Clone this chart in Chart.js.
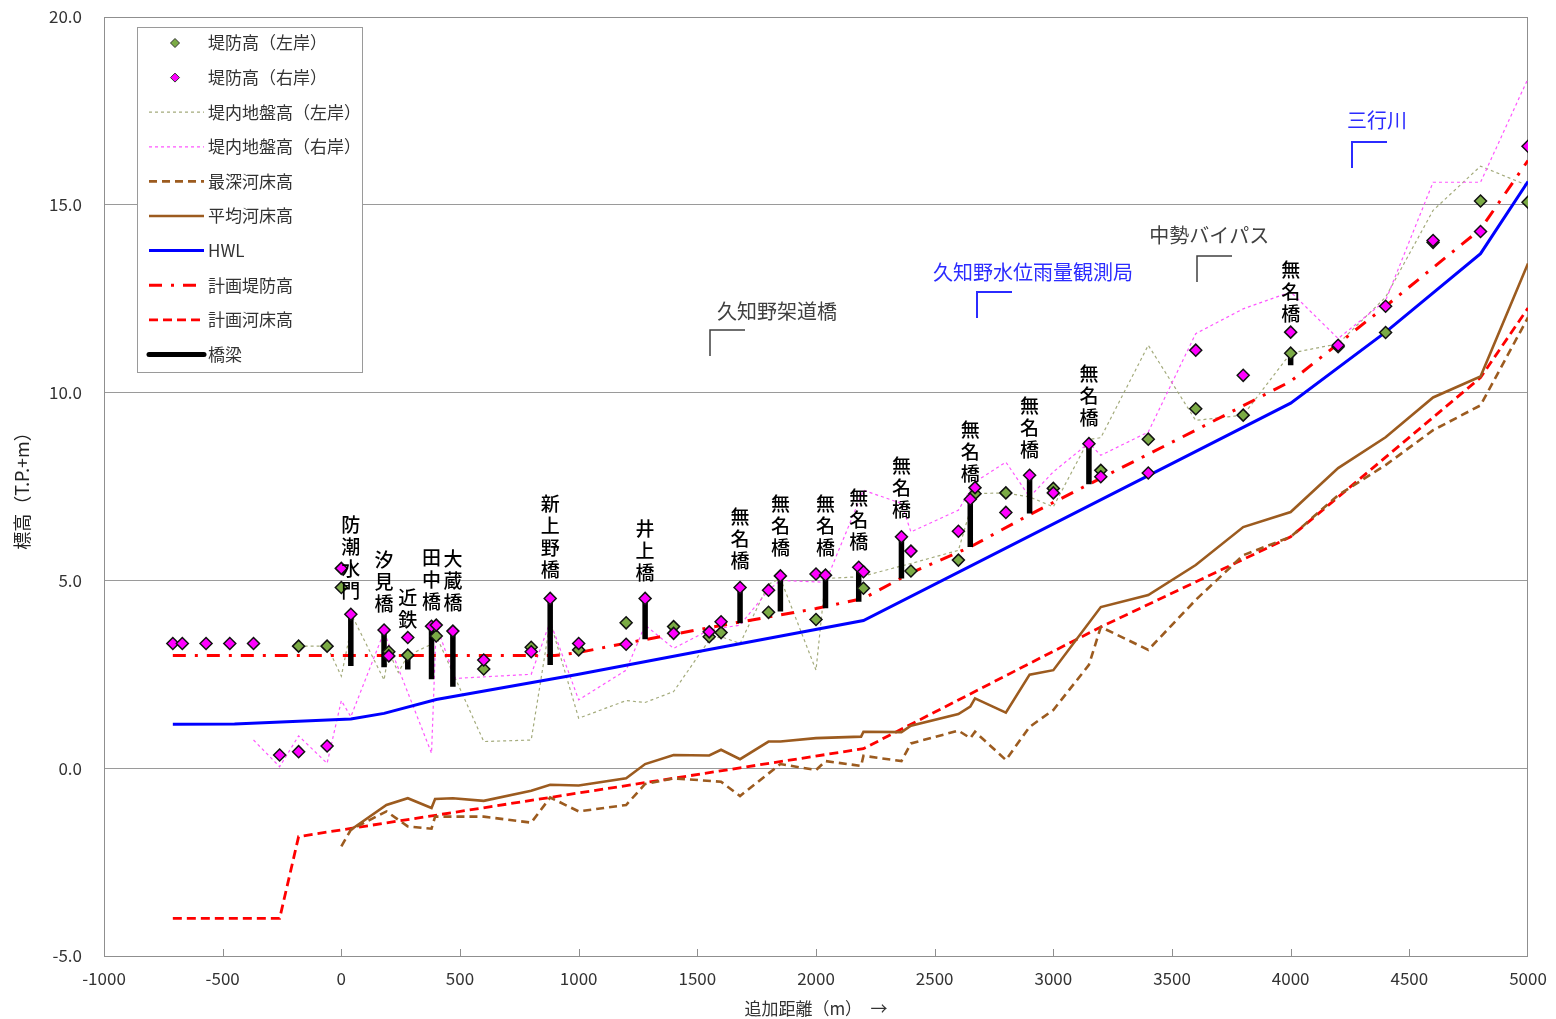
<!DOCTYPE html>
<html><head><meta charset="utf-8">
<script src="https://cdn.jsdelivr.net/npm/chart.js@4/dist/chart.umd.min.js"></script>
<style>html,body{margin:0;padding:0;background:#fff;}canvas{display:block;}</style>
</head><body>
<canvas id="c" width="1556" height="1019"></canvas>
<script>
const FONT = '"Noto Sans CJK JP", "Noto Sans", sans-serif';

// 堤防高（左岸）
const leveeLeftX = [-180, -60, 0, 200, 280, 400, 600, 800, 1000, 1200, 1400, 1550, 1600, 1800, 2000, 2200, 2400, 2600, 2670, 2800, 3000, 3200, 3400, 3600, 3800, 4000, 4200, 4400, 4600, 4800, 5000];
const leveeLeftY = [3.25, 3.25, 4.81, 3.10, 3.01, 3.52, 2.64, 3.22, 3.15, 3.87, 3.77, 3.50, 3.61, 4.15, 3.96, 4.79, 5.25, 5.54, 7.31, 7.33, 7.45, 7.93, 8.76, 9.57, 9.40, 11.05, 11.22, 11.60, 14.00, 15.10, 15.07];

// 堤防高（右岸）
const leveeRightX = [-710, -670, -570, -470, -370, -260, -180, -60, 0, 40, 180, 200, 280, 380, 400, 470, 600, 800, 880, 1000, 1200, 1280, 1400, 1550, 1600, 1680, 1800, 1850, 2000, 2040, 2180, 2200, 2360, 2400, 2600, 2650, 2670, 2800, 2900, 3000, 3150, 3200, 3400, 3600, 3800, 4000, 4200, 4400, 4600, 4800, 5000];
const leveeRightY = [3.32, 3.32, 3.32, 3.32, 3.32, 0.35, 0.44, 0.59, 5.32, 4.10, 3.68, 2.99, 3.48, 3.78, 3.81, 3.65, 2.88, 3.10, 4.52, 3.32, 3.30, 4.52, 3.59, 3.63, 3.90, 4.81, 4.74, 5.12, 5.17, 5.14, 5.35, 5.23, 6.16, 5.78, 6.31, 7.16, 7.47, 6.81, 7.80, 7.33, 8.64, 7.76, 7.86, 11.13, 10.46, 11.61, 11.26, 12.30, 14.05, 14.29, 16.56];

// 堤内地盤高（左岸）
const groundLeftX = [-180, -60, 0, 50, 180, 200, 240, 280, 380, 400, 600, 800, 880, 1000, 1200, 1280, 1400, 1550, 1600, 1680, 1800, 1850, 2000, 2040, 2190, 2400, 2600, 2670, 2800, 2900, 3000, 3150, 3200, 3400, 3600, 3800, 4000, 4200, 4400, 4600, 4800, 5000];
const groundLeftY = [3.25, 3.25, 2.45, 4.00, 2.35, 3.10, 2.55, 3.00, 3.30, 3.52, 0.71, 0.75, 3.90, 1.33, 1.80, 1.75, 2.04, 3.41, 3.50, 3.32, 4.90, 5.05, 2.61, 5.05, 5.10, 5.45, 5.80, 7.31, 7.33, 7.22, 6.96, 8.75, 8.80, 11.26, 9.26, 9.40, 11.05, 11.30, 12.54, 14.85, 16.03, 15.51];

// 堤内地盤高（右岸）
const groundRightX = [-370, -260, -180, -60, 0, 40, 180, 380, 400, 480, 800, 880, 1000, 1200, 1280, 1400, 1550, 1680, 1800, 1850, 2040, 2200, 2360, 2400, 2600, 2670, 2800, 2900, 3000, 3150, 3200, 3400, 3600, 3800, 4000, 4200, 4400, 4600, 4800, 5000];
const groundRightY = [0.75, 0.04, 0.86, 0.13, 1.80, 1.37, 3.63, 0.40, 3.81, 2.39, 2.50, 3.90, 1.82, 2.61, 3.81, 3.19, 3.68, 3.81, 4.74, 5.00, 4.95, 7.40, 7.05, 6.29, 6.87, 7.62, 8.15, 7.22, 7.89, 8.66, 8.33, 8.95, 11.57, 12.23, 12.68, 11.44, 12.45, 15.60, 15.60, 18.36];

// 最深河床高
const deepBedX = [0, 40, 190, 280, 380, 395, 600, 800, 880, 1000, 1200, 1280, 1400, 1600, 1680, 1850, 2000, 2040, 2190, 2200, 2360, 2400, 2600, 2650, 2670, 2800, 2900, 3000, 3150, 3200, 3400, 3600, 3800, 4000, 4200, 4400, 4600, 4800, 5000];
const deepBedY = [-2.08, -1.64, -1.15, -1.55, -1.61, -1.29, -1.29, -1.45, -0.78, -1.15, -0.98, -0.42, -0.27, -0.36, -0.74, 0.11, -0.05, 0.19, 0.06, 0.33, 0.19, 0.66, 1.00, 0.80, 0.97, 0.22, 1.10, 1.55, 2.75, 3.76, 3.15, 4.48, 5.67, 6.16, 7.27, 8.07, 9.00, 9.66, 12.00];

// 平均河床高
const avgBedX = [40, 190, 280, 380, 395, 470, 600, 800, 880, 1000, 1200, 1280, 1400, 1550, 1600, 1680, 1800, 1850, 2000, 2190, 2200, 2360, 2400, 2600, 2650, 2670, 2800, 2900, 3000, 3200, 3400, 3600, 3800, 4000, 4200, 4400, 4600, 4800, 5000];
const avgBedY = [-1.64, -0.98, -0.80, -1.06, -0.82, -0.80, -0.87, -0.60, -0.44, -0.46, -0.27, 0.11, 0.35, 0.34, 0.49, 0.24, 0.71, 0.71, 0.80, 0.84, 0.97, 0.96, 1.13, 1.44, 1.64, 1.86, 1.48, 2.49, 2.61, 4.29, 4.61, 5.41, 6.42, 6.82, 7.99, 8.81, 9.87, 10.43, 13.44];

// HWL
const hwlX = [-710, -450, 40, 180, 400, 1000, 1600, 2200, 4000, 4400, 4800, 5000];
const hwlY = [1.17, 1.18, 1.31, 1.46, 1.83, 2.50, 3.22, 3.93, 9.72, 11.61, 13.70, 15.62];

// 計画堤防高
const planLeveeX = [-710, 900, 1000, 1200, 1600, 2000, 2200, 2400, 2650, 2900, 3150, 3600, 4000, 4400, 4800, 5000];
const planLeveeY = [3.00, 3.00, 3.08, 3.33, 3.80, 4.25, 4.52, 5.20, 5.89, 6.75, 7.56, 9.00, 10.30, 12.30, 14.35, 16.18];

// 計画河床高
const planBedX = [-710, -260, -180, 2200, 3200, 4000, 4800, 5000];
const planBedY = [-4.00, -4.00, -1.82, 0.52, 3.76, 6.16, 10.40, 12.25];

// 橋梁（桁下〜天端）
const bridgeNames = ['防潮水門', '汐見橋', '近鉄', '田中橋', '大蔵橋', '新上野橋', '井上橋', '無名橋', '無名橋', '無名橋', '無名橋', '無名橋', '無名橋', '無名橋', '無名橋', '無名橋'];
const bridgeX = [40, 180, 280, 380, 470, 880, 1280, 1680, 1850, 2040, 2180, 2360, 2650, 2900, 3150, 4000];
const bridgeBottom = [2.72, 2.69, 2.63, 2.37, 2.17, 2.75, 3.43, 3.86, 4.17, 4.26, 4.43, 5.05, 5.89, 6.78, 7.56, 10.73];
const bridgeTop = [4.10, 3.68, 3.01, 3.78, 3.65, 4.52, 4.52, 4.81, 5.12, 5.14, 5.35, 6.16, 7.16, 7.80, 8.64, 11.05];
// 橋名の最下段の文字の標高
const bridgeLabelY = [4.72, 4.37, 3.94, 4.42, 4.40, 5.27, 5.19, 5.51, 5.86, 5.86, 6.02, 6.87, 7.85, 8.49, 9.34, 12.10];

// 地点の注記
const noteNames = ['久知野架道橋', '久知野水位雨量観測局', '中勢バイパス', '三行川'];
const noteX = [1553, 2679, 3606, 4258];
const noteY = [11.66, 12.67, 13.65, 16.68];
const noteTextX = [1836, 2914, 3657, 4364];
const noteTextY = [12.16, 13.20, 14.18, 17.24];
const noteColors = ['#404040', '#2b2bff', '#404040', '#2b2bff'];

// 軸目盛
const xTickMin = -1000, xTickMax = 5000, xTickStep = 500;
const yTickMin = -5, yTickMax = 20, yTickStep = 5;

const pts = (xs, ys) => xs.map((x, i) => ({x, y: ys[i]}));

const bridgePts = [];
bridgeX.forEach((x, i) => {
  bridgePts.push({x, y: bridgeBottom[i]}, {x, y: bridgeTop[i]}, {x, y: null});
});

const BROWN = '#9c5b1f';
const lineBase = {showLine: true, pointRadius: 0, pointHoverRadius: 0, tension: 0, fill: false, spanGaps: false};

const datasets = [
  {label: '堤防高（左岸）', data: pts(leveeLeftX, leveeLeftY), showLine: false, pointStyle: 'rectRot', pointRadius: 6, backgroundColor: '#7bab45', borderColor: '#111', borderWidth: 1.5, order: 1, legendKind: 'marker'},
  {label: '堤防高（右岸）', data: pts(leveeRightX, leveeRightY), showLine: false, pointStyle: 'rectRot', pointRadius: 6, backgroundColor: '#ff00ff', borderColor: '#111', borderWidth: 1.5, order: 0, legendKind: 'marker'},
  {...lineBase, label: '堤内地盤高（左岸）', data: pts(groundLeftX, groundLeftY), borderColor: '#a4ab7c', borderWidth: 1.2, borderDash: [3, 3], order: 9},
  {...lineBase, label: '堤内地盤高（右岸）', data: pts(groundRightX, groundRightY), borderColor: '#ff55ff', borderWidth: 1.2, borderDash: [3, 3], order: 8},
  {...lineBase, label: '最深河床高', data: pts(deepBedX, deepBedY), borderColor: BROWN, borderWidth: 2.6, borderDash: [8, 5], order: 6},
  {...lineBase, label: '平均河床高', data: pts(avgBedX, avgBedY), borderColor: BROWN, borderWidth: 2.6, order: 5},
  {...lineBase, label: 'HWL', data: pts(hwlX, hwlY), borderColor: '#0000ff', borderWidth: 3, order: 4},
  {...lineBase, label: '計画堤防高', data: pts(planLeveeX, planLeveeY), borderColor: '#ff0000', borderWidth: 3, borderDash: [13, 9, 3, 9], order: 3},
  {...lineBase, label: '計画河床高', data: pts(planBedX, planBedY), borderColor: '#ff0000', borderWidth: 2.8, borderDash: [9, 5], order: 7},
  {...lineBase, label: '橋梁', data: bridgePts, borderColor: '#000', borderWidth: 5.5, borderCapStyle: 'butt', order: 2}
];

const decorations = {
  id: 'decorations',
  beforeDatasetsDraw(chart) {
    const {ctx, chartArea: a, scales: {x}} = chart;
    ctx.save();
    ctx.strokeStyle = '#8f8f8f';
    ctx.lineWidth = 1;
    ctx.strokeRect(a.left + 0.5, a.top + 0.5, a.right - a.left - 1, a.bottom - a.top);
    for (let v = xTickMin + xTickStep; v < xTickMax; v += xTickStep) {
      const px = Math.round(x.getPixelForValue(v)) + 0.5;
      ctx.beginPath();
      ctx.moveTo(px, a.bottom);
      ctx.lineTo(px, a.bottom - 7);
      ctx.stroke();
    }
    ctx.restore();
  },
  afterDatasetsDraw(chart) {
    const {ctx, scales: {x, y}} = chart;
    ctx.save();
    // 橋名（縦書き）
    ctx.fillStyle = '#000';
    ctx.font = '500 19px ' + FONT;
    ctx.textAlign = 'center';
    ctx.textBaseline = 'middle';
    bridgeNames.forEach((name, i) => {
      const px = x.getPixelForValue(bridgeX[i]);
      const pyBottom = y.getPixelForValue(bridgeLabelY[i]);
      const chars = Array.from(name);
      chars.forEach((ch, k) => {
        ctx.fillText(ch, px, pyBottom - (chars.length - 1 - k) * 22);
      });
    });
    // 地点の注記
    ctx.font = '20px ' + FONT;
    noteNames.forEach((name, i) => {
      const c = noteColors[i];
      ctx.fillStyle = c;
      ctx.strokeStyle = c;
      ctx.lineWidth = c === '#404040' ? 1.5 : 2;
      ctx.fillText(name, x.getPixelForValue(noteTextX[i]), y.getPixelForValue(noteTextY[i]));
      const bx = Math.round(x.getPixelForValue(noteX[i]));
      const by = Math.round(y.getPixelForValue(noteY[i]));
      ctx.beginPath();
      ctx.moveTo(bx + 35, by);
      ctx.lineTo(bx, by);
      ctx.lineTo(bx, by + 26);
      ctx.stroke();
    });
    ctx.restore();
  },
  afterDraw(chart) {
    const {ctx, chartArea: a} = chart;
    ctx.save();
    // 凡例
    const L = 137, T = 27, W = 225, H = 345;
    ctx.fillStyle = '#fff';
    ctx.fillRect(L, T, W, H);
    ctx.strokeStyle = '#9a9a9a';
    ctx.lineWidth = 1;
    ctx.strokeRect(L + 0.5, T + 0.5, W, H);
    ctx.font = '17px ' + FONT;
    ctx.textBaseline = 'middle';
    ctx.textAlign = 'left';
    chart.data.datasets.forEach((ds, i) => {
      const cy = 43 + i * 34.6;
      if (ds.legendKind === 'marker') {
        const cx = 175, r = 4.5;
        ctx.beginPath();
        ctx.moveTo(cx, cy - r); ctx.lineTo(cx + r, cy); ctx.lineTo(cx, cy + r); ctx.lineTo(cx - r, cy); ctx.closePath();
        ctx.fillStyle = ds.backgroundColor; ctx.fill();
        ctx.strokeStyle = '#333'; ctx.lineWidth = 1; ctx.stroke();
      } else {
        ctx.beginPath();
        ctx.setLineDash(ds.borderDash || []);
        ctx.strokeStyle = ds.borderColor;
        ctx.lineWidth = ds.label === '橋梁' ? 5 : ds.borderWidth;
        ctx.lineCap = ds.label === '橋梁' ? 'round' : 'butt';
        ctx.moveTo(149, cy); ctx.lineTo(204, cy);
        ctx.stroke();
        ctx.setLineDash([]);
      }
      ctx.fillStyle = '#333';
      ctx.fillText(ds.label, 208, cy);
    });
    // 軸タイトル
    ctx.fillStyle = '#333';
    ctx.font = '17px ' + FONT;
    ctx.textAlign = 'center';
    ctx.fillText('追加距離（m）　→', (a.left + a.right) / 2, 1009);
    ctx.translate(22, (a.top + a.bottom) / 2);
    ctx.rotate(-Math.PI / 2);
    ctx.font = '18px ' + FONT;
    ctx.fillStyle = '#222';
    ctx.fillText('標高（T.P.+m）', 0, 0);
    ctx.restore();
  }
};

new Chart(document.getElementById('c'), {
  type: 'scatter',
  data: {datasets},
  options: {
    responsive: false,
    animation: false,
    devicePixelRatio: 1,
    layout: {padding: {left: 0, right: 28, top: 17, bottom: 0}},
    plugins: {legend: {display: false}, tooltip: {enabled: false}},
    scales: {
      x: {
        type: 'linear', min: xTickMin, max: xTickMax,
        afterFit: s => { s.height = 63; s.paddingLeft = 0; s.paddingRight = 0; },
        ticks: {stepSize: xTickStep, padding: 12, color: '#333', font: {family: FONT, size: 17}, callback: v => String(v)},
        grid: {display: false, drawTicks: false},
        border: {display: false}
      },
      y: {
        type: 'linear', min: yTickMin, max: yTickMax,
        afterFit: s => { s.width = 104; s.paddingTop = 0; s.paddingBottom = 0; },
        ticks: {stepSize: yTickStep, padding: 22, color: '#333', font: {family: FONT, size: 17}, callback: v => v.toFixed(1)},
        grid: {color: '#9a9a9a', lineWidth: 1, drawTicks: false},
        border: {display: false}
      }
    }
  },
  plugins: [decorations]
});
</script>
</body></html>
